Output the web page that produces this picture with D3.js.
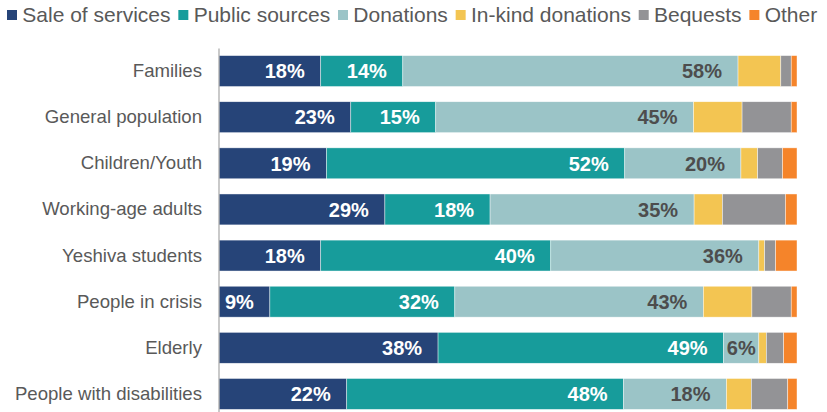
<!DOCTYPE html>
<html>
<head>
<meta charset="utf-8">
<script src="https://cdn.jsdelivr.net/npm/d3@7"></script>
<style>
	body { margin: 0; background: #fff; }
	svg { display: block; font-family: Arial, "Liberation Sans", sans-serif; }
</style>
</head>
<body>
<script>
// data (percent of budget)
var categories = ["Families", "General population", "Children/Youth", "Working-age adults",
	"Yeshiva students", "People in crisis", "Elderly", "People with disabilities"];
var seriesNames = ["Sale of services", "Public sources", "Donations", "In-kind donations", "Bequests", "Other"];
var saleOfServices = [17.6, 22.8, 18.6, 28.7, 17.6, 8.8, 37.9, 22.1];
var publicSources  = [14.2, 14.7, 51.6, 18.2, 39.8, 32.0, 49.4, 47.9];
var donations      = [58.0, 44.6, 20.1, 35.3, 36.0, 43.0, 6.1, 17.8];
var inKind         = [7.4, 8.4, 2.9, 4.9, 1.0, 8.4, 1.3, 4.3];
var bequests       = [1.8, 8.5, 4.3, 10.9, 1.9, 6.8, 3.0, 6.3];
var other          = [1.0, 1.0, 2.5, 2.0, 3.7, 1.0, 2.3, 1.6];
var seriesColors = ["#264478", "#179c9b", "#9bc4c7", "#f3c552", "#939396", "#f5842a"];
var labelled = ["Sale of services", "Public sources", "Donations"]; // only these carry labels

var width = 827, height = 412;

var svg = d3.select("body").append("svg")
	.attr("width", width)
	.attr("height", height);

//build the table for the stack
var cols = [saleOfServices, publicSources, donations, inKind, bequests, other];
var table = categories.map(function(c, i){
	var row = {category: c};
	seriesNames.forEach(function(s, j){ row[s] = cols[j][i]; });
	return row;
});

var stacked = d3.stack().keys(seriesNames)(table);

var x = d3.scaleLinear().domain([0, 100]).range([219, 797]);
var y = d3.scaleBand().domain(categories).range([48, 417])
	.paddingInner(0.33).paddingOuter(0.165);
var color = d3.scaleOrdinal().domain(seriesNames).range(seriesColors);

// bars
var layer = svg.append("g").selectAll(".layer")
	.data(stacked).enter().append("g")
		.attr("class", "layer")
		.attr("fill", function(d){ return color(d.key); });

layer.selectAll("rect")
	.data(function(d){ return d; })
	.enter().append("rect")
		.attr("x", function(d){ return x(d[0]); })
		.attr("y", function(d){ return y(d.data.category); })
		.attr("width", function(d){ return x(d[1]) - x(d[0]); })
		.attr("height", y.bandwidth())
		.attr("stroke", "#ffffff")
		.attr("stroke-width", 0.6)
		.attr("stroke-opacity", 0.7);

// data labels, inside end (centered when too tight)
var labels = svg.append("g");
stacked.forEach(function(s){
	if (labelled.indexOf(s.key) < 0) return;
	s.forEach(function(d){
		var x0 = x(d[0]), x1 = x(d[1]);
		var t = labels.append("text")
			.attr("y", y(d.data.category) + y.bandwidth()/2)
			.attr("dy", "0.36em")
			.style("font-size", "20px")
			.style("font-weight", "bold")
			.style("fill", s.key == "Donations" ? "#4d4d4d" : "#ffffff")
			.text(Math.round(d[1] - d[0]) + "%");
		var w = t.node().getComputedTextLength();
		if (x1 - x0 - 16 - w < 3){
			t.attr("x", (x0 + x1)/2).attr("text-anchor", "middle");
		} else {
			t.attr("x", x1 - 16).attr("text-anchor", "end");
		}
	});
});

// category axis
var axis = svg.append("g")
	.attr("transform", "translate(218.5,0)")
	.call(d3.axisLeft(y).tickSize(0).tickPadding(16.5));
axis.select(".domain").attr("stroke", "#a6a6a6").attr("stroke-width", 1.2);
axis.selectAll(".tick text")
	.style("font-family", "Arial, 'Liberation Sans', sans-serif")
	.style("font-size", "18.6px")
	.style("fill", "#595959");

// legend
var legend = svg.append("g");
var lx = 7;
seriesNames.forEach(function(s){
	legend.append("rect")
		.attr("x", lx).attr("y", 10)
		.attr("width", 10).attr("height", 10)
		.attr("fill", color(s));
	var t = legend.append("text")
		.attr("x", lx + 15.3).attr("y", 21.5)
		.style("font-size", "21px")
		.style("fill", "#595959")
		.text(s);
	lx += 15.3 + t.node().getComputedTextLength() + 7.8;
});
</script>
</body>
</html>
